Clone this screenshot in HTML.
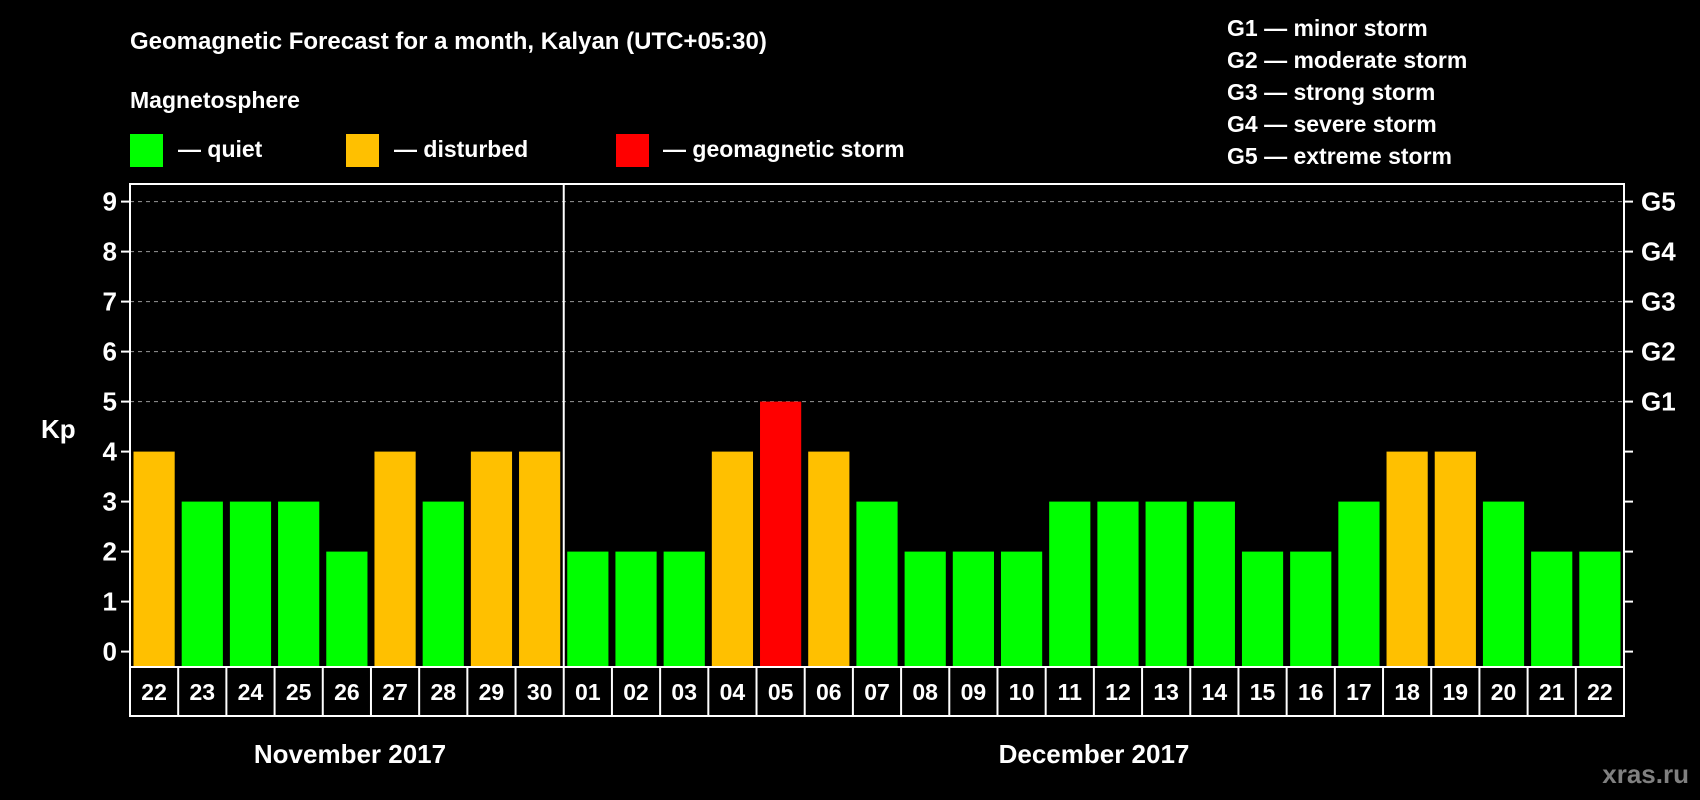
<!DOCTYPE html>
<html><head><meta charset="utf-8"><style>
html,body{margin:0;padding:0;background:#000;}
svg{display:block;font-family:"Liberation Sans",Arial,sans-serif;font-weight:bold;}
</style></head><body>
<svg id="chart" width="1700" height="800" viewBox="0 0 1700 800">
<text x="130" y="49" fill="#fff" font-size="24">Geomagnetic Forecast for a month, Kalyan (UTC+05:30)</text>
<text x="130" y="108" fill="#fff" font-size="23">Magnetosphere</text>
<g><rect x="130" y="134" width="33" height="33" fill="#00ff00"/><text x="178" y="157" fill="#fff" font-size="23">— quiet</text></g>
<g><rect x="346" y="134" width="33" height="33" fill="#ffc000"/><text x="394" y="157" fill="#fff" font-size="23">— disturbed</text></g>
<g><rect x="616" y="134" width="33" height="33" fill="#ff0000"/><text x="663" y="157" fill="#fff" font-size="23">— geomagnetic storm</text></g>
<g fill="#fff" font-size="23">
<text x="1227" y="36">G1 — minor storm</text>
<text x="1227" y="68">G2 — moderate storm</text>
<text x="1227" y="100">G3 — strong storm</text>
<text x="1227" y="132">G4 — severe storm</text>
<text x="1227" y="164">G5 — extreme storm</text>
</g>
<text x="41" y="438" fill="#fff" font-size="26">Kp</text>
<text x="350" y="763" fill="#fff" font-size="26" text-anchor="middle">November 2017</text>
<text x="1094" y="763" fill="#fff" font-size="26" text-anchor="middle">December 2017</text>
<text x="1689" y="783" fill="#808080" font-size="26" text-anchor="end">xras.ru</text>
<g id="plot"></g>
</svg>
<script>
const dayLabels = ["22","23","24","25","26","27","28","29","30","01","02","03","04","05","06","07","08","09","10","11","12","13","14","15","16","17","18","19","20","21","22"];
const kpValues = [4,3,3,3,2,4,3,4,4,2,2,2,4,5,4,3,2,2,2,3,3,3,3,2,2,3,4,4,3,2,2];
const yTicks = [0,1,2,3,4,5,6,7,8,9];
const gLabels = ["G1","G2","G3","G4","G5"];
const gLevels = [5,6,7,8,9];
const monthSplit = 9;

const NS="http://www.w3.org/2000/svg";
const L=130,R=1624,T=184,B=667,Y0=651.6,UNIT=50;
const pitch=(R-L)/kpValues.length;
const yS=v=>Y0-v*UNIT;
const xS=i=>L+i*pitch;
const g=document.getElementById('plot');
function mk(tag,attrs){const e=document.createElementNS(NS,tag);for(const k in attrs)e.setAttribute(k,attrs[k]);g.appendChild(e);return e;}
// grid
gLevels.forEach(v=>{const e=mk('line',{x1:L,x2:R,y1:yS(v),y2:yS(v),stroke:'#999','stroke-width':1,'stroke-dasharray':'4,4'});

});
// bars
kpValues.forEach((v,i)=>{const c=v>=5?'#ff0000':(v>=4?'#ffc000':'#00ff00');
const e=mk('rect',{x:xS(i)+3.5,y:yS(v),width:pitch-7,height:B-yS(v),fill:c});

});
// frame
const f=mk('path',{d:`M${L} ${B}V${T}H${R}V${B}H${L}`,fill:'none',stroke:'#fff','stroke-width':2});


const sx=xS(monthSplit);
const s=mk('line',{x1:sx,x2:sx,y1:T,y2:B,stroke:'#fff','stroke-width':2});


// y ticks
yTicks.forEach(v=>{mk('line',{x1:L-9,x2:L,y1:yS(v),y2:yS(v),stroke:'#fff','stroke-width':2});
mk('line',{x1:R,x2:R+9,y1:yS(v),y2:yS(v),stroke:'#fff','stroke-width':2});
const t=mk('text',{x:117,y:yS(v)+9,fill:'#fff','font-size':26,'text-anchor':'end'});t.textContent=v;

});
gLabels.forEach((lab,i)=>{const t=mk('text',{x:1641,y:yS(gLevels[i])+9,fill:'#fff','font-size':26});t.textContent=lab;

});
// date cells
const DB=716;
mk('path',{d:`M${L} ${B}V${DB}H${R}V${B}`,fill:'none',stroke:'#fff','stroke-width':2});
dayLabels.forEach((d,i)=>{if(i>0)mk('line',{x1:xS(i),x2:xS(i),y1:B,y2:DB,stroke:'#fff','stroke-width':2});
const t=mk('text',{x:xS(i)+pitch/2,y:700,fill:'#fff','font-size':23,'text-anchor':'middle'});t.textContent=d;

});
</script>
</body></html>
